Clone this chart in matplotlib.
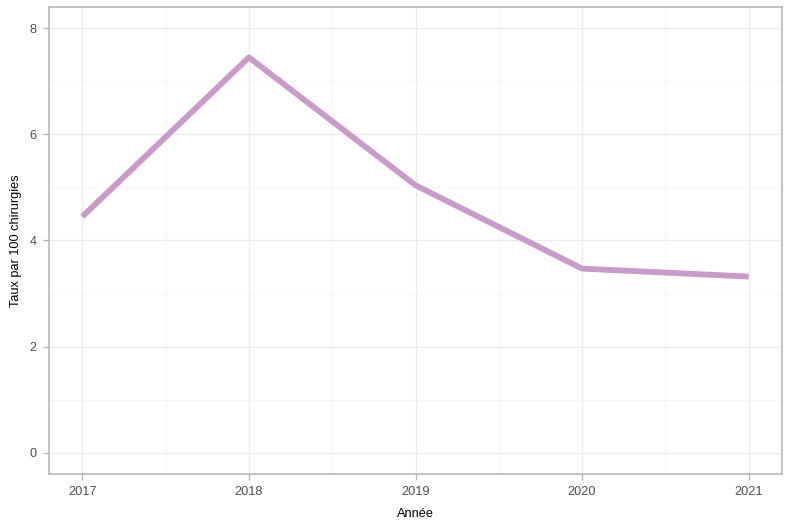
import matplotlib
matplotlib.use('Agg')
import matplotlib.pyplot as plt

plt.rcParams['font.family'] = ['Liberation Sans', 'DejaVu Sans']

annees = [2017, 2018, 2019, 2020, 2021]
taux = [4.45, 7.45, 5.04, 3.47, 3.32]
yticks = [0, 2, 4, 6, 8]

fig = plt.figure(figsize=(7.92, 5.29), dpi=100)
ax = fig.add_axes([0.0619, 0.104, 0.9255, 0.8828])

ax.plot(annees, taux, color='#C99BC8', linewidth=4.2, solid_capstyle='butt', zorder=3)

ax.set_xlim(2016.8, 2021.2)
ax.set_ylim(-0.4, 8.4)
ax.set_xticks(annees)
ax.set_xticklabels([str(a) for a in annees])
ax.set_yticks(yticks)
ax.set_xticks([2017.5, 2018.5, 2019.5, 2020.5], minor=True)
ax.set_yticks([1, 3, 5, 7], minor=True)

ax.grid(which='major', color='#EBEBEB', linewidth=0.9)
ax.grid(which='minor', color='#F4F4F4', linewidth=0.6)
ax.set_axisbelow(True)
for s in ax.spines.values():
    s.set_color('#B3B3B3')
    s.set_linewidth(1.1)
ax.tick_params(which='major', colors='#B3B3B3', labelcolor='#4D4D4D', labelsize=9.2, length=4, width=0.9, pad=5)
ax.tick_params(which='minor', length=0)

ax.set_xlabel('Année', fontsize=9.2, color='black', labelpad=7)
ax.set_ylabel('Taux par 100 chirurgies', fontsize=9.2, color='black', labelpad=5)

fig.savefig('out.png', dpi=100)
